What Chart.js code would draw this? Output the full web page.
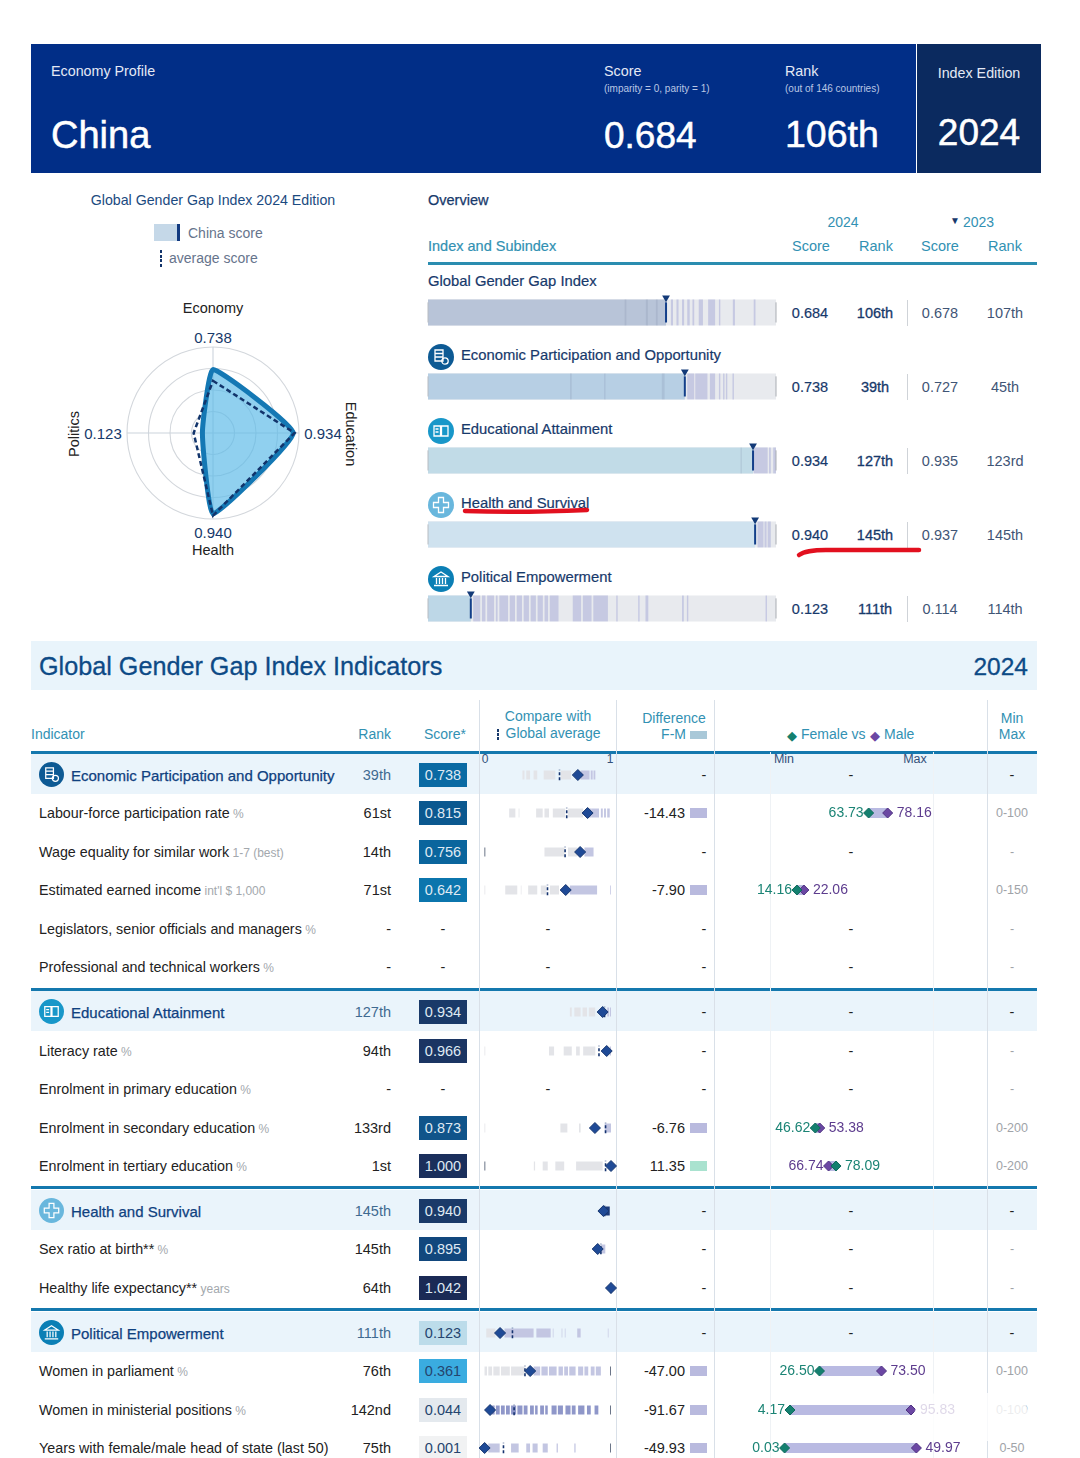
<!DOCTYPE html>
<html>
<head>
<meta charset="utf-8">
<title>China - Global Gender Gap Index 2024</title>
<script src="https://cdn.jsdelivr.net/npm/chart.js@4/dist/chart.umd.min.js"></script>
<style>
  html, body { margin: 0; padding: 0; background: #fff; }
  #page { position: relative; width: 1080px; height: 1458px; overflow: hidden; font-family: "Liberation Sans", Arial, sans-serif; }
  #page div, #page canvas, #page svg { position: absolute; }
  .t { white-space: nowrap; line-height: 1; }
  .t span { color: #a3a8ad; font-size: 0.84em; }
</style>
</head>
<body>
<div id="page"></div>
<script>
// ---------- data ----------
const radarLabels = ["Economy", "Education", "Health", "Politics"];
const radarScores = [0.738, 0.934, 0.94, 0.123];
const radarAverages = [0.607, 0.949, 0.96, 0.225];

const overviewNames = ["Global Gender Gap Index", "Economic Participation and Opportunity", "Educational Attainment", "Health and Survival", "Political Empowerment"];
const overviewIcons = [null, "econ", "edu", "health", "pol"];
const overviewScores = [0.684, 0.738, 0.934, 0.94, 0.123];
const overviewRanks = ["106th", "39th", "127th", "145th", "111th"];
const overviewPrevScores = ["0.678", "0.727", "0.935", "0.937", "0.114"];
const overviewPrevRanks = ["107th", "45th", "123rd", "145th", "114th"];
const overviewFills = ["#b8c4d8", "#b7cfe4", "#c1dbe7", "#cfe2ef", "#bdd7e7"];
// country ticks along each strip, as [from, to]
const overviewTicks = [
  [[.565,.57],[.626,.632],[.655,.66],[.698,.704],[.714,.72],[.73,.736],[.745,.752],[.76,.765],[.778,.79],[.805,.825],[.836,.84],[.876,.882],[.936,.941]],
  [[.408,.413],[.506,.51],[.672,.68],[.745,.765],[.768,.803],[.81,.825],[.836,.84],[.848,.852],[.856,.86],[.875,.879]],
  [[.898,.902],[.936,.976],[.98,.985],[.992,1]],
  [[.947,.964],[.967,.973],[.976,.985]],
  [[.13,.15],[.155,.165],[.17,.19],[.195,.2],[.205,.23],[.235,.25],[.255,.27],[.275,.29],[.295,.31],[.315,.33],[.335,.345],[.35,.375],[.416,.44],[.445,.47],[.475,.517],[.541,.545],[.604,.608],[.625,.633],[.73,.735],[.744,.748],[.97,.974]]
];

const rowNames = ["Economic Participation and Opportunity", "Labour-force participation rate", "Wage equality for similar work", "Estimated earned income", "Legislators, senior officials and managers", "Professional and technical workers",
  "Educational Attainment", "Literacy rate", "Enrolment in primary education", "Enrolment in secondary education", "Enrolment in tertiary education",
  "Health and Survival", "Sex ratio at birth**", "Healthy life expectancy**",
  "Political Empowerment", "Women in parliament", "Women in ministerial positions", "Years with female/male head of state (last 50)"];
const rowUnits = ["", "%", "1-7 (best)", "int'l $ 1,000", "%", "%", "", "%", "%", "%", "%", "", "%", "years", "", "%", "%", ""];
const rowIcons = ["econ", null, null, null, null, null, "edu", null, null, null, null, "health", null, null, "pol", null, null, null];
const rowRanks = ["39th", "61st", "14th", "71st", "-", "-", "127th", "94th", "-", "133rd", "1st", "145th", "145th", "64th", "111th", "76th", "142nd", "75th"];
const rowScores = [0.738, 0.815, 0.756, 0.642, null, null, 0.934, 0.966, null, 0.873, 1.0, 0.94, 0.895, 1.042, 0.123, 0.361, 0.044, 0.001];
const rowBoxColors = ["#0a6aa3", "#0b588f", "#0a659d", "#0b75ad", null, null, "#1a3a69", "#1b3563", null, "#10548a", "#1a2f5c", "#1a3a69", "#12477d", "#1a2a55", "#bcdcea", "#3aace0", "#e4e9ee", "#f1f2f3"];
const rowAverages = [0.593, 0.65, 0.637, 0.498, null, null, 0.949, 0.905, null, 0.957, 0.957, 0.95, 0.92, 0.998, 0.221, 0.32, 0.234, 0.15];
const rowTicks = [
  [[.3,.316],[.33,.36],[.388,.417],[.468,.56],[.603,.684],[.76,.83],[.84,.855],[.862,.876]],
  [[.195,.244],[.27,.276],[.297,.303],[.408,.46],[.474,.51],[.54,.638],[.66,.78],[.82,.848],[.848,.905],[.92,.935],[.945,.96],[.97,.99]],
  [[0,.006],[.474,.632],[.66,.733],[.79,.862]],
  [[0,.006],[.1,.105],[.164,.259],[.287,.292],[.345,.417],[.445,.49],[.517,.589],[.675,.89],[.994,1]],
  [], [],
  [[.675,.69],[.71,.76],[.775,.81],[.825,.875],[.97,.985],[.992,1]],
  [[0,.006],[.51,.55],[.626,.69],[.724,.753],[.78,.876],[.99,1]],
  [],
  [[0,.006],[.6,.655],[.747,.76],[.95,1]],
  [[0,.006],[.39,.4],[.46,.5],[.56,.63],[.724,.934]],
  [[.934,.99]],
  [[.92,.955]],
  [],
  [[.014,.086],[.158,.388],[.41,.523],[.54,.545],[.61,.615],[.635,.64],[.733,.76],[.975,.98]],
  [[0,.02],[.03,.06],[.07,.12],[.13,.2],[.21,.316],[.388,.44],[.45,.5],[.51,.57],[.585,.62],[.63,.66],[.67,.72],[.74,.78],[.79,.82],[.84,.87],[.88,.92],[.994,1]],
  [[.06,.08],[.09,.12],[.13,.16],[.17,.2],[.21,.25],[.26,.3],[.31,.34],[.36,.39],[.4,.42],[.44,.47],[.48,.5],[.53,.57],[.58,.62],[.64,.68],[.69,.72],[.74,.79],[.81,.84],[.87,.9],[.994,1]],
  [[.03,.12],[.21,.27],[.33,.36],[.38,.42],[.46,.5],[.57,.58],[.71,.72],[.994,1]]
];
const rowDiffs = [null, -14.43, null, -7.9, null, null, null, null, null, -6.76, 11.35, null, null, null, null, -47, -91.67, -49.93];
const rowFemale = [null, 63.73, null, 14.16, null, null, null, null, null, 46.62, 78.09, null, null, null, null, 26.5, 4.17, 0.03];
const rowMale = [null, 78.16, null, 22.06, null, null, null, null, null, 53.38, 66.74, null, null, null, null, 73.5, 95.83, 49.97];
const rowRangeMax = [null, 100, null, 150, null, null, null, null, null, 200, 200, null, null, null, null, 100, 100, 50];

// ---------- page helpers ----------
const page = document.getElementById("page");
const NAVY = "#17396b", TEAL = "#3291b3", DARK = "#222";

function box(x, y, w, h, color) {
  const d = document.createElement("div");
  d.style.cssText = `left:${x}px;top:${y}px;width:${w}px;height:${h}px;background:${color}`;
  page.appendChild(d);
  return d;
}

// y is the vertical middle of the text, align is l / c / r
function label(x, y, str, size, color, align = "l", opts = {}) {
  const d = document.createElement("div");
  d.className = "t";
  d.textContent = str;
  const tx = align === "c" ? "-50%" : align === "r" ? "-100%" : "0";
  d.style.cssText = `left:${x}px;top:${y}px;font-size:${size}px;color:${color};transform:translate(${tx},-50%) ${opts.rotate ? `rotate(${opts.rotate}deg)` : ""};`;
  if (opts.stroke) d.style.webkitTextStroke = opts.stroke + "px " + color;
  if (opts.unit) {
    const s = document.createElement("span");
    s.textContent = " " + opts.unit;
    d.appendChild(s);
  }
  page.appendChild(d);
  return d;
}

function makeCanvas(x, y, w, h) {
  const c = document.createElement("canvas");
  c.width = w;
  c.height = h;
  c.style.cssText = `left:${x}px;top:${y}px;width:${w}px;height:${h}px`;
  page.appendChild(c);
  return c.getContext("2d");
}

const ICON_GLYPHS = {
  econ: '<path d="M-6-7h8v11h-8zM-6-3.5h8M-6 0h8" fill="none"/><circle cx="4" cy="4" r="3.2"/>',
  edu: '<path d="M-7-5h6.5v10H-7zM.5-5H7v10H.5zM-5.5-2h3M-5.5 1h3" fill="none"/>',
  health: '<path d="M-2.5-7.5h5v5h5v5h-5v5h-5v-5h-5v-5h5z" fill="none"/>',
  pol: '<path d="M-7-2.5L0-7l7 4.5zM-7 6.5h14M-4.5-1v6M-1.5-1v6M1.5-1v6M4.5-1v6" fill="none"/>'
};
const ICON_COLORS = { econ: "#0d5a94", edu: "#1897c9", health: "#69b7dd", pol: "#0b7fb5" };

function icon(cx, cy, r, kind) {
  const ns = "http://www.w3.org/2000/svg";
  const s = document.createElementNS(ns, "svg");
  s.setAttribute("width", r * 2);
  s.setAttribute("height", r * 2);
  s.setAttribute("viewBox", "-13 -13 26 26");
  s.style.left = cx - r + "px";
  s.style.top = cy - r + "px";
  s.innerHTML = `<circle r="13" fill="${ICON_COLORS[kind]}"/><g stroke="#fff" stroke-width="1.3" fill="none">${ICON_GLYPHS[kind]}</g>`;
  page.appendChild(s);
}

const stripOptions = (padding, xMax = 1) => ({
  responsive: false,
  animation: false,
  events: [],
  layout: { padding },
  plugins: { legend: { display: false }, tooltip: { enabled: false } },
  scales: {
    x: { type: "linear", display: false, min: 0, max: xMax },
    y: { type: "linear", display: false, min: -1, max: 1 }
  }
});

// a thick horizontal segment as a two point scatter line
const segment = (from, to, color, width, y = 0) => ({
  data: [{ x: from, y }, { x: to, y }],
  showLine: true, borderColor: color, borderWidth: width, borderCapStyle: "butt",
  pointRadius: 0, clip: false
});

// Chart.js paints dataset 0 last, so flip the list to paint back to front
const backToFront = (list) => list.slice().reverse();

// ---------- header ----------
box(31, 44, 885, 129, "#012e87");
box(917, 44, 124, 129, "#0b2a5f");
label(51, 71, "Economy Profile", 14.3, "#e4e9f5");
label(51, 135, "China", 38, "#fff", "l", { stroke: 0.5 });
label(604, 71, "Score", 14.3, "#e4e9f5");
label(604, 89, "(imparity = 0, parity = 1)", 10, "#b9c6e4");
label(604, 135, "0.684", 37, "#fff", "l", { stroke: 0.5 });
label(785, 71, "Rank", 14.3, "#e4e9f5");
label(785, 89, "(out of 146 countries)", 10, "#b9c6e4");
label(785, 135, "106th", 37.5, "#fff", "l", { stroke: 0.5 });
label(979, 73, "Index Edition", 14.3, "#e4e9f5", "c");
label(979, 132, "2024", 37, "#fff", "c", { stroke: 0.5 });

// ---------- radar ----------
label(213, 200, "Global Gender Gap Index 2024 Edition", 14.2, "#1b4a80", "c");
box(154, 224, 23, 17, "#c5d8e8");
box(177, 224, 3, 17, "#123a80");
label(188, 233, "China score", 14, "#66748c");
for (let i = 0; i < 4; i++) box(159.5, 250 + i * 4.5, 2, 3, "#12346b");
label(169, 258, "average score", 14, "#66748c");

label(213, 308, radarLabels[0], 14.5, DARK, "c");
label(213, 337, radarScores[0].toFixed(3), 15, NAVY, "c");
label(323, 433, radarScores[1].toFixed(3), 15, NAVY, "c");
label(351, 434, radarLabels[1], 14.5, DARK, "c", { rotate: 90 });
label(213, 532, radarScores[2].toFixed(3), 15, NAVY, "c");
label(213, 550, radarLabels[2], 14.5, DARK, "c");
label(103, 433, radarScores[3].toFixed(3), 15, NAVY, "c");
label(74, 434, radarLabels[3], 14.5, DARK, "c", { rotate: -90 });

new Chart(makeCanvas(113, 333, 200, 200), {
  type: "radar",
  data: {
    labels: radarLabels,
    datasets: [
      { label: "average score", data: radarAverages, order: 0, fill: false, borderColor: "#12346b", borderWidth: 2.5, borderDash: [5, 3], pointRadius: 0, tension: 0 },
      { label: "China score", data: radarScores, order: 1, fill: true, backgroundColor: "rgba(92,186,232,0.68)", borderColor: "#1478b4", borderWidth: 5, borderJoinStyle: "round", pointRadius: 0, tension: 0.12 }
    ]
  },
  options: {
    responsive: false,
    animation: false,
    events: [],
    layout: { padding: 14 },
    plugins: { legend: { display: false }, tooltip: { enabled: false } },
    scales: {
      r: {
        min: 0, max: 1,
        ticks: { display: false, stepSize: 0.25 },
        pointLabels: { display: false },
        grid: { circular: true, color: "#d3d7dc", lineWidth: 1.1 },
        angleLines: { color: "#ccd3dc", lineWidth: 1.1 }
      }
    }
  }
});

// ---------- overview ----------
label(428, 200, "Overview", 14.5, NAVY, "l", { stroke: 0.25 });
label(843, 222, "2024", 14, TEAL, "c");
label(955, 221, "▼", 10, NAVY, "c");
label(963, 222, "2023", 14, TEAL);
label(428, 246, "Index and Subindex", 14.5, TEAL, "l", { stroke: 0.2 });
["Score", "Rank", "Score", "Rank"].forEach((s, i) => label([811, 876, 940, 1005][i], 246, s, 14.5, TEAL, "c"));
box(428, 262, 609, 3, "#2a8db0");

overviewNames.forEach((name, i) => {
  const top = 300 + i * 74;
  const labelY = i === 0 ? 281 : top - 19;
  label(i === 0 ? 428 : 461, labelY, name, 14.8, NAVY, "l", { stroke: 0.2 });
  if (overviewIcons[i]) icon(441, top - 17, 13, overviewIcons[i]);

  const score = overviewScores[i];
  const ticks = overviewTicks[i].map(([a, b]) => segment(a, b, a < score ? "rgba(120,135,165,0.2)" : "rgba(150,155,210,0.42)", 26, -0.35));
  // canvas reaches above the strip for the little marker
  new Chart(makeCanvas(418, top - 13, 368, 40), {
    type: "scatter",
    data: {
      datasets: backToFront([
        segment(0, 1, "#e8eaee", 26, -0.35),
        segment(0, score, overviewFills[i], 26, -0.35),
        ...ticks,
        { data: [{ x: 0, y: -1 }, { x: 0, y: 0.3 }], showLine: true, borderColor: "#b8bcc2", borderWidth: 1, pointRadius: 0, clip: false },
        { data: [{ x: 1, y: -1 }, { x: 1, y: 0.3 }], showLine: true, borderColor: "#a9adb3", borderWidth: 1, pointRadius: 0, clip: false },
        { data: [{ x: score, y: -1 }, { x: score, y: 0.3 }], showLine: true, borderColor: "#133f8a", borderWidth: 2, pointRadius: 0, clip: false },
        { data: [{ x: score, y: 0.6 }], pointStyle: "triangle", rotation: 180, pointRadius: 4.5, backgroundColor: "#133a78", borderWidth: 0, clip: false }
      ])
    },
    options: stripOptions({ left: 10, right: 10, top: 0, bottom: 0 })
  });

  const y = top + 13;
  label(810, y, score.toFixed(3), 14.5, NAVY, "c", { stroke: 0.2 });
  label(875, y, overviewRanks[i], 14.5, NAVY, "c", { stroke: 0.3 });
  box(907, top, 1, 26, "#cfd3d8");
  label(940, y, overviewPrevScores[i], 14.5, "#3f5576", "c");
  label(1005, y, overviewPrevRanks[i], 14.5, "#3f5576", "c");
});

// hand drawn red marks
const redMarks = document.createElementNS("http://www.w3.org/2000/svg", "svg");
redMarks.setAttribute("width", 1080);
redMarks.setAttribute("height", 1458);
redMarks.style.cssText = "left:0;top:0";
redMarks.innerHTML = '<g fill="none" stroke="#e2101f" stroke-width="4.5" stroke-linecap="round"><path d="M465 511 Q520 513 587 510"/><path d="M799 555 Q806 550 826 550 L919 550"/></g>';

// ---------- indicators ----------
box(31, 641, 1006, 49, "#e9f4fb");
label(39, 667, "Global Gender Gap Index Indicators", 25.2, "#0d4a86", "l", { stroke: 0.3 });
label(1028, 667, "2024", 24.5, "#0d4a86", "r", { stroke: 0.3 });

label(31, 734, "Indicator", 14, TEAL);
label(391, 734, "Rank", 14, TEAL, "r");
label(445, 734, "Score*", 14, TEAL, "c");
label(548, 716, "Compare with", 14, TEAL, "c");
label(553, 733, "Global average", 14, TEAL, "c");
for (let i = 0; i < 3; i++) box(497, 729 + i * 4, 1.6, 3, "#17396b");
label(674, 718, "Difference", 14, TEAL, "c");
label(686, 734, "F-M", 14, TEAL, "r");
box(690, 731, 17, 8, "#a9c8d8");
label(792, 735, "◆", 13, "#14806f", "c");
label(801, 734, "Female vs", 14, TEAL);
label(875, 735, "◆", 13, "#6b47a3", "c");
label(884, 734, "Male", 14, TEAL);
label(1012, 718, "Min", 14, TEAL, "c");
label(1012, 734, "Max", 14, TEAL, "c");

const ROW_STEP = 38.45, SECTION_GAP = 6.5;
let rowY = 775;
rowNames.forEach((name, i) => {
  if (i > 0 && rowIcons[i]) rowY += SECTION_GAP;
  if (rowIcons[i]) {
    box(31, rowY - 21, 1006, 40, "#eaf4fb");
    box(31, rowY - 24.5, 1006, 3, "#1478ae");
  }
  rowY += ROW_STEP;
});

// column rules go over the section bands, below the text
[[478.5, 700, "#d9e0e8"], [616, 700, "#d9e0e8"], [714, 700, "#d9e0e8"], [987, 700, "#d9e0e8"], [770, 752, "#eff2f5"], [932.5, 752, "#eff2f5"]].forEach(([x, top, color]) => box(x, top, 1, 1458 - top, color));

label(485, 759, "0", 12, "#33507a", "c");
label(610, 759, "1", 12, "#33507a", "c");
label(784, 759, "Min", 12.5, "#33507a", "c");
label(915, 759, "Max", 12.5, "#33507a", "c");

// value labels beside the diamonds, placed from the x scale
const valueLabels = {
  id: "valueLabels",
  afterDatasetsDraw(chart, args, opts) {
    const { ctx, scales: { x } } = chart;
    const mid = chart.chartArea.top + chart.chartArea.height / 2;
    const femaleLow = opts.female < opts.male;
    const low = femaleLow ? opts.female : opts.male;
    const high = femaleLow ? opts.male : opts.female;
    ctx.save();
    ctx.font = '14px "Liberation Sans", Arial, sans-serif';
    ctx.textBaseline = "middle";
    ctx.textAlign = "right";
    ctx.fillStyle = femaleLow ? "#1b8475" : "#5d3c8e";
    ctx.fillText(low.toFixed(2), x.getPixelForValue(low) - 5, mid);
    ctx.textAlign = "left";
    ctx.fillStyle = femaleLow ? "#5d3c8e" : "#1b8475";
    ctx.fillText(high.toFixed(2), x.getPixelForValue(high) + 9, mid);
    ctx.restore();
  }
};

rowY = 775;
rowNames.forEach((name, i) => {
  if (i > 0 && rowIcons[i]) rowY += SECTION_GAP;
  const y = rowY;
  const isSection = !!rowIcons[i];
  const score = rowScores[i];

  if (isSection) {
    icon(51, y - 0.5, 12.5, rowIcons[i]);
    label(71, y, name, 15, "#0f4180", "l", { stroke: 0.25 });
  } else {
    label(39, y, name, 14.3, DARK, "l", { unit: rowUnits[i] });
  }

  label(391, y, rowRanks[i], 14.5, isSection ? "#3f6a90" : DARK, "r");
  if (score === null) {
    label(443, y, "-", 14.5, DARK, "c");
    label(548, y, "-", 14.5, DARK, "c");
  } else {
    box(419, y - 12, 48, 24, rowBoxColors[i]);
    label(443, y, score.toFixed(3), 14.5, score < 0.5 ? "#25456f" : "#dfe9f3", "c");

    const ticks = rowTicks[i].map(([a, b]) => {
      const dark = a < 0.01 && b < 0.01 && i !== 3 && i !== 7 && i !== 9;
      const far = a > 0.99 && i >= 14;
      let color = a < score ? "#e3e4e8" : "#c3c6e2";
      if (dark || far) color = "#3d4a63";
      else if (i === 11) color = "#1b3a7a";
      else if (i === 16) color = "#8f97c9";
      return segment(a, b, color, 9);
    });
    const avg = rowAverages[i];
    new Chart(makeCanvas(474, Math.round(y) - 15, 148, 30), {
      type: "scatter",
      data: {
        datasets: backToFront([
          ...ticks,
          { data: [{ x: avg, y: -0.62 }, { x: avg, y: 0.62 }], showLine: true, borderColor: "#15336f", borderWidth: 1.6, borderDash: [3, 2], pointRadius: 0, clip: false },
          { data: [{ x: Math.min(score, 1), y: 0 }], pointStyle: "rectRot", pointRadius: 5.5, backgroundColor: "#1f4a96", borderColor: "#17366f", borderWidth: 1, clip: false }
        ])
      },
      options: stripOptions({ left: 10.5, right: 11, top: 0, bottom: 0 })
    });
  }

  if (rowDiffs[i] === null) {
    label(704, y, "-", 14.5, DARK, "c");
    label(851, y, "-", 14.5, DARK, "c");
  } else {
    label(685, y, rowDiffs[i].toFixed(2), 14.5, DARK, "r");
    box(690, y - 5, 17, 10, rowDiffs[i] < 0 ? "#b9bade" : "#a9e2cf");
    const f = rowFemale[i], m = rowMale[i], top = rowRangeMax[i];
    new Chart(makeCanvas(720, Math.round(y) - 15, 260, 30), {
      type: "scatter",
      data: {
        datasets: backToFront([
          segment(Math.min(f, m), Math.max(f, m), "#b9bae2", 10),
          { data: [{ x: m, y: 0 }], pointStyle: "rectRot", pointRadius: 5, backgroundColor: "#6b47a3", borderColor: "#4f3382", borderWidth: 1, clip: false },
          { data: [{ x: f, y: 0 }], pointStyle: "rectRot", pointRadius: 5, backgroundColor: "#14806f", borderColor: "#0f6a5c", borderWidth: 1, clip: false }
        ])
      },
      options: { ...stripOptions({ left: 64.5, right: 63.5, top: 0, bottom: 0 }, top), plugins: { legend: { display: false }, tooltip: { enabled: false }, valueLabels: { female: f, male: m } } },
      plugins: [valueLabels]
    });
  }

  const range = rowRangeMax[i] ? "0-" + rowRangeMax[i] : "-";
  label(1012, y, range, isSection ? 14.5 : 12.5, isSection ? DARK : "#a0a3a8", "c");
  rowY += ROW_STEP;
});

// light badge that sits over the bottom right corner of the source picture
const badge = box(914, 1393, 115, 48, "rgba(255,255,255,0.8)");
badge.style.borderRadius = "24px";
page.appendChild(redMarks);
</script>
</body>
</html>
